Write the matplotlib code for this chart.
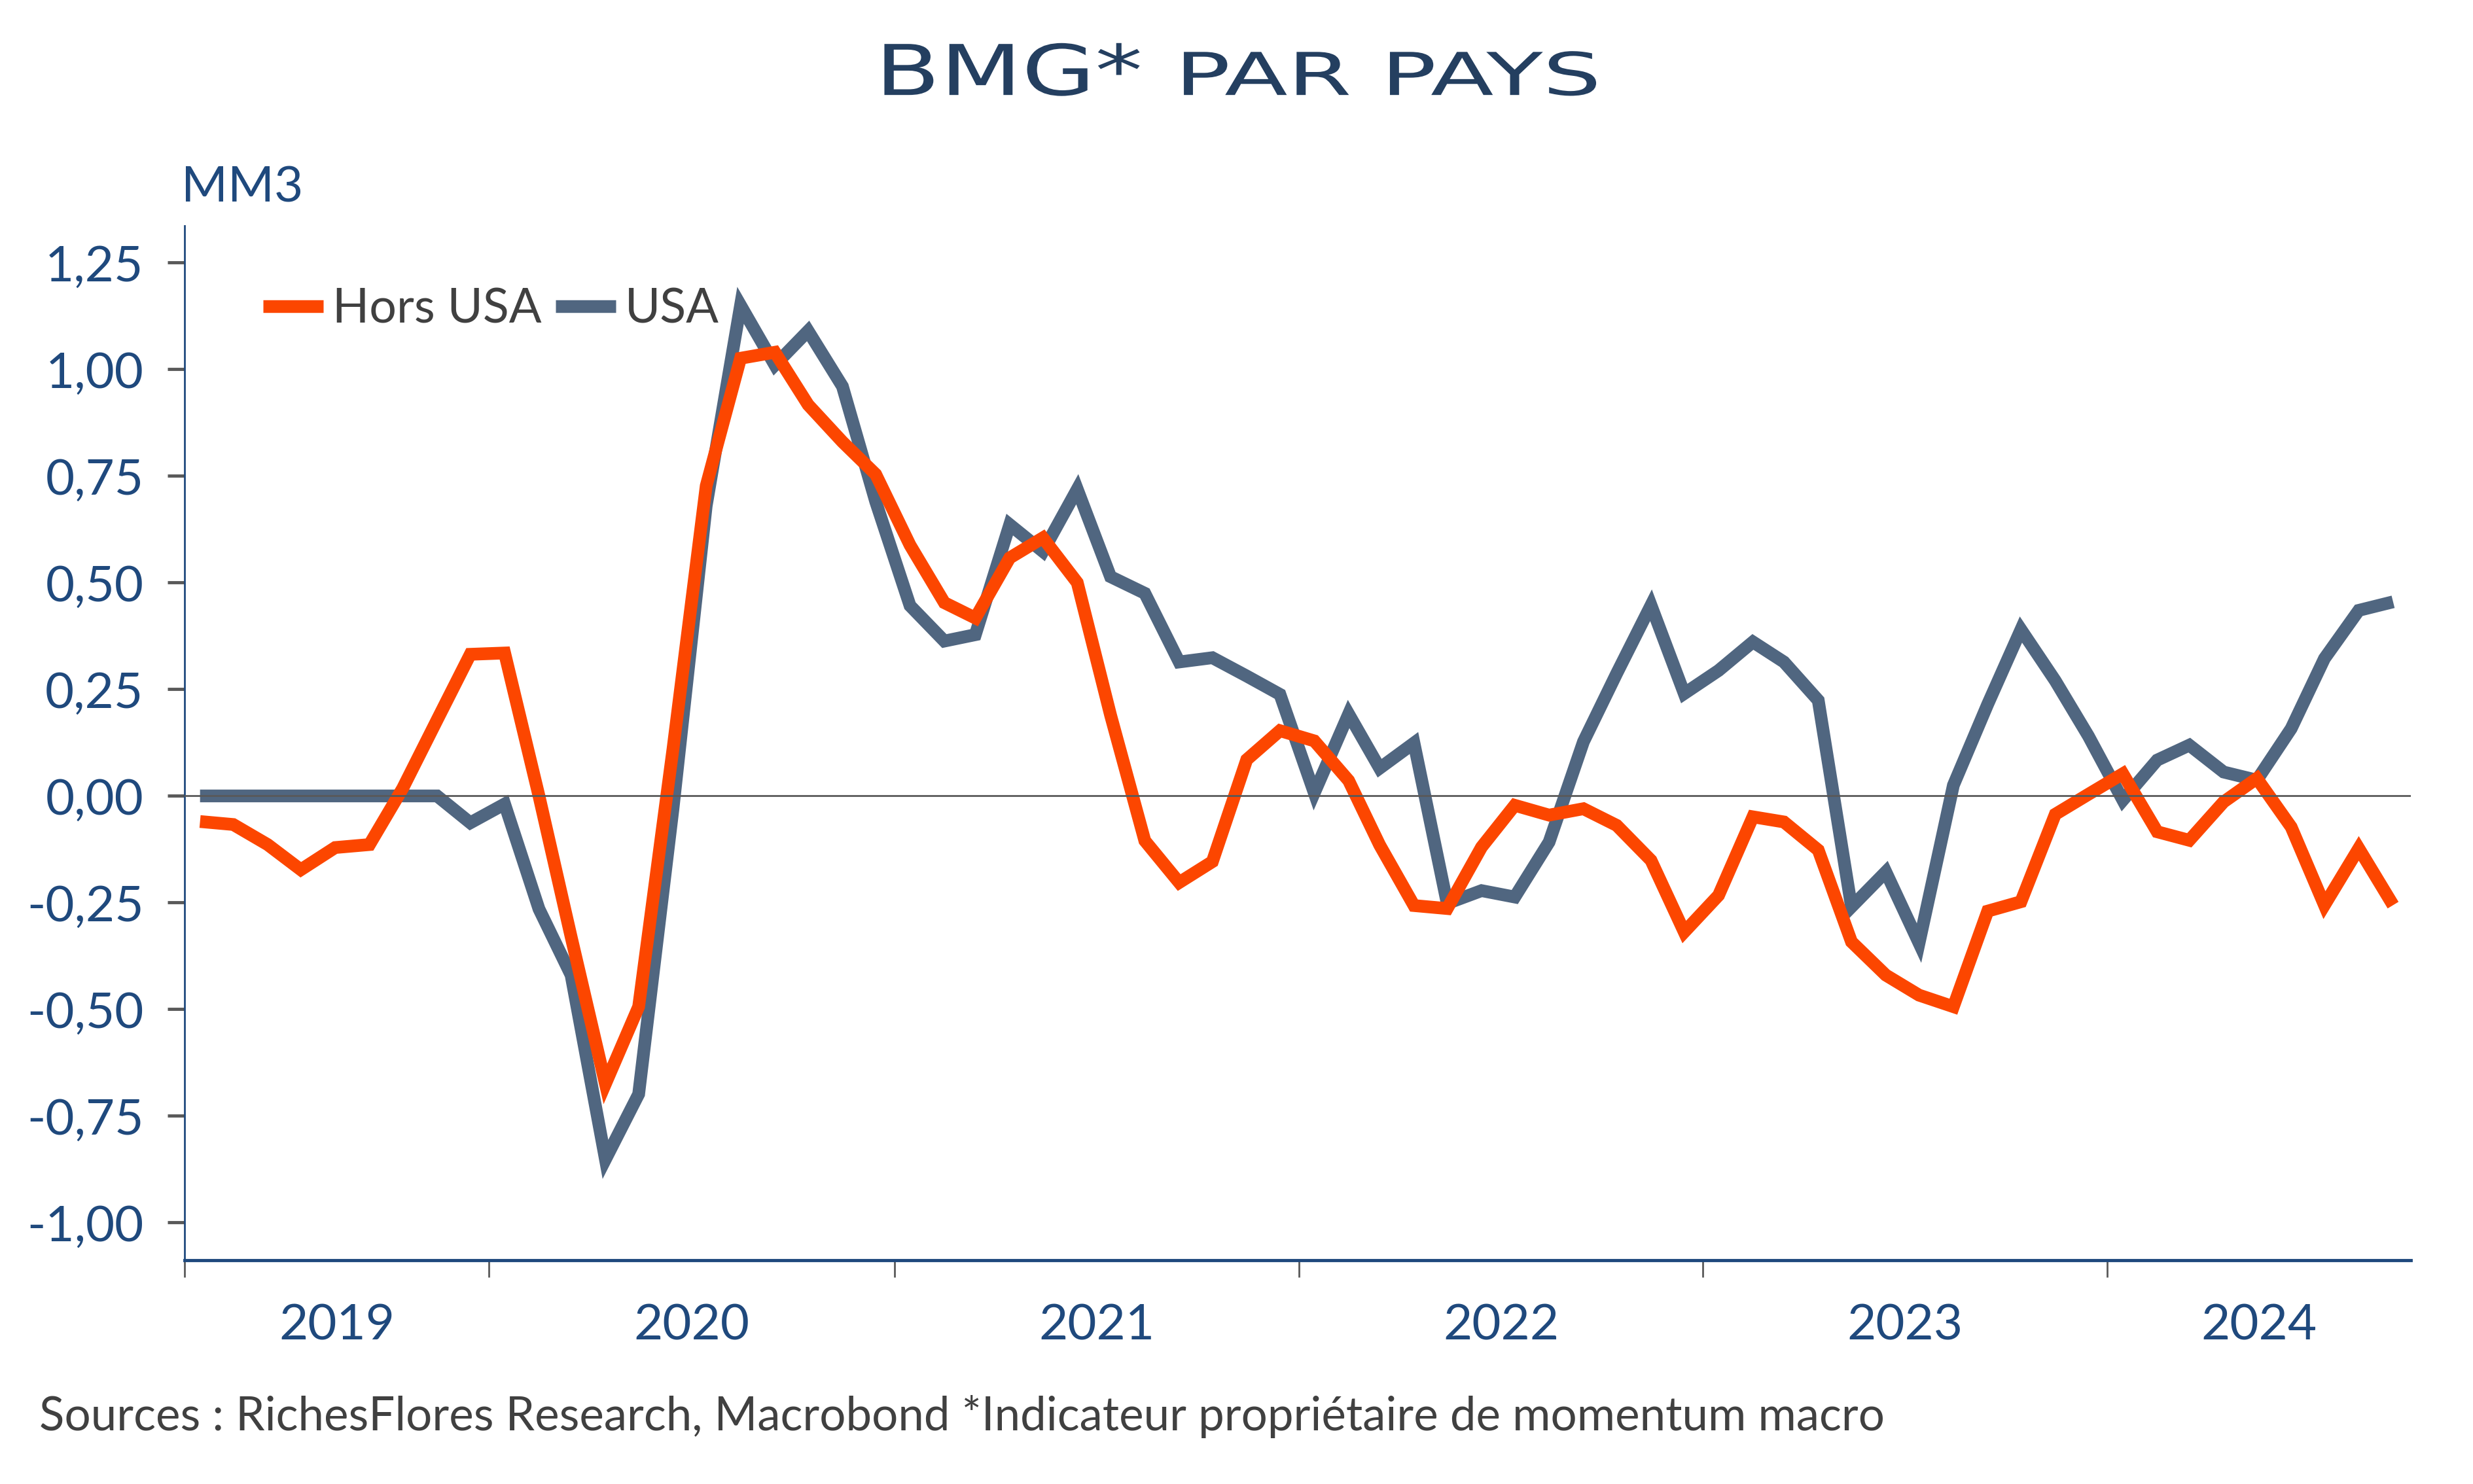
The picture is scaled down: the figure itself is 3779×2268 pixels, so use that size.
#!/usr/bin/env python3
"""
BMG* par pays : Hors USA vs USA (MM3)
"""

import matplotlib
matplotlib.use('Agg')
import matplotlib.pyplot as plt
import matplotlib.dates as mdates
from matplotlib.ticker import FixedLocator, FuncFormatter
from matplotlib.patheffects import AbstractPathEffect
from matplotlib.transforms import Affine2D
from datetime import datetime

# Data (monthly, MM3)
START_YEAR, START_MONTH = 2019, 4
HORS_USA = [
    -0.06, -0.067, -0.114, -0.173, -0.121, -0.114, 0.018, 0.178, 0.332, 0.335,
    0.0, -0.33, -0.675, -0.494, 0.11, 0.727, 1.026, 1.04, 0.917, 0.83,
    0.754, 0.588, 0.453, 0.417, 0.558, 0.605, 0.50, 0.19, -0.105, -0.203,
    -0.154, 0.085, 0.153, 0.129, 0.036, -0.115, -0.257, -0.264, -0.12, -0.022,
    -0.045, -0.030, -0.069, -0.151, -0.319, -0.233, -0.049, -0.061, -0.127, -0.342,
    -0.42, -0.467, -0.494, -0.27, -0.248, -0.043, 0.004, 0.052, -0.084, -0.104,
    -0.014, 0.041, -0.073, -0.256, -0.123, -0.256,
]
USA = [
    0.0, 0.0, 0.0, 0.0, 0.0, 0.0, 0.0, 0.0, -0.063, -0.019,
    -0.265, -0.42, -0.852, -0.699, -0.03, 0.68, 1.15, 1.01, 1.09, 0.96,
    0.69, 0.446, 0.363, 0.378, 0.636, 0.573, 0.719, 0.514, 0.475, 0.314,
    0.324, 0.281, 0.238, 0.007, 0.192, 0.065, 0.124, -0.252, -0.222, -0.237,
    -0.108, 0.127, 0.287, 0.447, 0.24, 0.294, 0.361, 0.314, 0.224, -0.26,
    -0.178, -0.345, 0.025, 0.215, 0.39, 0.27, 0.14, -0.01, 0.084, 0.119,
    0.056, 0.037, 0.158, 0.322, 0.435, 0.455,
]
YEARS = [2019, 2020, 2021, 2022, 2023, 2024]
Y_TICKS = [-1.0, -0.75, -0.5, -0.25, 0.0, 0.25, 0.5, 0.75, 1.0, 1.25]

TITLE_BIG = 'BMG*'
TITLE_SMALL = 'PAR PAYS'
UNIT_LABEL = 'MM3'
SOURCE = 'Sources : RichesFlores Research, Macrobond *Indicateur propriétaire de momentum macro'

# Styles
HORS_COLOR = '#FC4600'
USA_COLOR = '#506680'
NAVY = '#1F497D'
TITLE_COLOR = '#243F60'
TEXT_GRAY = '#404040'
TICK_GRAY = '#595959'
LINE_WIDTH = 14
TICK_SIZE = 55

plt.rcParams['font.family'] = ['Lato', 'DejaVu Sans']


class HStretch(AbstractPathEffect):
    """Stretch text glyphs horizontally about the text origin (extended font look)"""

    def __init__(self, sx):
        super().__init__()
        self.sx = sx

    def draw_path(self, renderer, gc, tpath, affine, rgbFace=None):
        ox, oy = affine.transform((0, 0))
        stretch = Affine2D().translate(-ox, -oy).scale(self.sx, 1).translate(ox, oy)
        renderer.draw_path(gc, tpath, affine + stretch, rgbFace)


def month_dates(n):
    dates = []
    y, m = START_YEAR, START_MONTH
    for _ in range(n):
        dates.append(datetime(y, m, 15))
        m += 1
        if m > 12:
            m, y = 1, y + 1
    return dates


def main():
    fig = plt.figure(figsize=(37.8, 22.68), dpi=100)
    ax = fig.add_axes([0.0746, 0.1509, 0.9, 0.6971])

    dates = month_dates(len(HORS_USA))
    x_left, x_right = datetime(2019, 4, 1), datetime(2024, 10, 1)

    l_usa, = ax.plot(dates, USA, color=USA_COLOR, linewidth=LINE_WIDTH,
                     solid_joinstyle='miter', solid_capstyle='butt', zorder=3)
    l_hors, = ax.plot(dates, HORS_USA, color=HORS_COLOR, linewidth=LINE_WIDTH,
                      solid_joinstyle='miter', solid_capstyle='butt', zorder=4)
    ax.axhline(0, color=TICK_GRAY, linewidth=2, zorder=5)

    ax.set_xlim(x_left, x_right)
    ax.set_ylim(-1.088, 1.337)

    # x axis: ticks at year boundaries, labels centred in each visible year
    bounds = [datetime(y, 1, 1) for y in YEARS[1:]]
    ax.xaxis.set_major_locator(FixedLocator(mdates.date2num([x_left] + bounds)))
    ax.xaxis.set_major_formatter(FuncFormatter(lambda v, p: ''))
    edges = [x_left] + bounds + [x_right]
    mids = [mdates.date2num(a) + (mdates.date2num(b) - mdates.date2num(a)) / 2
            for a, b in zip(edges[:-1], edges[1:])]
    ax.xaxis.set_minor_locator(FixedLocator(mids))
    ax.xaxis.set_minor_formatter(FuncFormatter(lambda v, p: str(YEARS[p])))
    ax.tick_params(axis='x', which='major', length=19, width=2, color=TICK_GRAY,
                   direction='out')
    ax.tick_params(axis='x', which='minor', length=0, pad=47, labelsize=TICK_SIZE,
                   labelcolor=NAVY)

    ax.yaxis.set_major_locator(FixedLocator(Y_TICKS))
    ax.yaxis.set_major_formatter(FuncFormatter(lambda v, p: f'{v:.2f}'.replace('.', ',')))
    ax.tick_params(axis='y', length=19, width=3.5, color=TICK_GRAY, pad=26,
                   labelsize=TICK_SIZE, labelcolor=NAVY)

    for side in ['top', 'right']:
        ax.spines[side].set_visible(False)
    ax.spines['left'].set_color(NAVY)
    ax.spines['left'].set_linewidth(2)
    ax.spines['bottom'].set_color(NAVY)
    ax.spines['bottom'].set_linewidth(3.5)

    leg = ax.legend([l_hors, l_usa], ['Hors USA', 'USA'], loc='center left',
                    bbox_to_anchor=(0.0354, 0.919), ncol=2, frameon=False,
                    fontsize=53, handlelength=1.25, handletextpad=0.18,
                    columnspacing=0.3, borderpad=0, borderaxespad=0)
    for t in leg.get_texts():
        t.set_color(TEXT_GRAY)

    fig.text(0.0733, 0.864, UNIT_LABEL, fontsize=55, color=NAVY, ha='left', va='baseline')
    fig.text(0.0159, 0.0361, SOURCE, fontsize=51, color=TEXT_GRAY, ha='left', va='baseline')

    # Title in two sizes, glyphs stretched to mimic an extended typeface
    t_big = fig.text(0, 0.936, TITLE_BIG, fontsize=77, color=TITLE_COLOR,
                     family='DejaVu Sans', ha='left', va='baseline')
    t_small = fig.text(0, 0.936, TITLE_SMALL, fontsize=65, color=TITLE_COLOR,
                       family='DejaVu Sans', ha='left', va='baseline')
    fig.canvas.draw()
    r = fig.canvas.get_renderer()
    fw = fig.bbox.width
    target_big, target_small, gap = 409.0, 652.0, 49.0   # pixel widths
    sx_big = target_big / t_big.get_window_extent(r).width
    sx_small = target_small / t_small.get_window_extent(r).width
    t_big.set_path_effects([HStretch(sx_big)])
    t_small.set_path_effects([HStretch(sx_small)])
    x0 = 0.5006 - (target_big + gap + target_small) / 2 / fw
    t_big.set_x(x0)
    t_small.set_x(x0 + (target_big + gap) / fw)

    fig.savefig('out.png', dpi=100)
    plt.close(fig)


if __name__ == '__main__':
    main()
